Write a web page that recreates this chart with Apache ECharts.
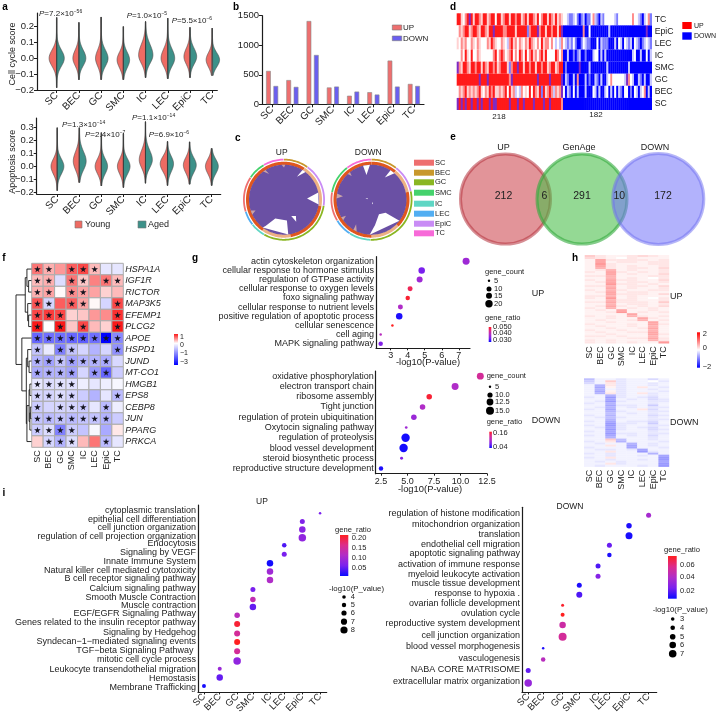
<!DOCTYPE html>
<html><head><meta charset="utf-8"><style>html,body{margin:0;padding:0;background:#fff}#c{width:719px;height:716px}</style>
<script src="https://cdn.jsdelivr.net/npm/echarts@6/dist/echarts.min.js"></script></head><body><div id="c"></div>
<script>
const cellTypes=['SC','BEC','GC','SMC','IC','LEC','EpiC','TC'];
// panel a: violin readings per cell type
const ccMin=[-.186,-.136,-.136,-.136,-.123,-.13,-.123,-.11];
const ccMax=[.257,.226,.26,.2,.232,.253,.195,.19];
const ccPeak=[0,0,0,-.01,.02,0,.01,-.01];
const ccSigLow=[.05,.047,.05,.05,.052,.05,.047,.045];
const ccSigUp=[.052,.052,.052,.048,.066,.058,.052,.045];
const ccYoung=[.33,.26,.24,.27,.30,.29,.26,.26];
const ccAged=[.33,.30,.30,.27,.32,.30,.29,.32];
const apMin=[-.19,-.127,-.153,-.166,-.132,-.15,-.14,-.15];
const apMax=[.30,.30,.262,.256,.347,.194,.19,.14];
const apPeak=[0,.04,0,0,.05,.02,.01,0];
const apSigLow=[.06,.068,.058,.06,.062,.062,.06,.057];
const apSigUp=[.058,.074,.058,.058,.074,.058,.058,.055];
const apYoung=[.27,.26,.27,.26,.27,.32,.27,.27];
const apAged=[.29,.30,.27,.29,.30,.26,.29,.29];
// panel b
const degUp=[565,410,1410,285,145,205,740,345];
const degDown=[310,295,835,300,215,165,300,310];
// panel c
const chordOrder=['BEC','EpiC','GC','IC','LEC','SC','SMC','TC'];
const chordColors={SC:'#ee6f6f',BEC:'#c8982c',GC:'#8ab622',SMC:'#45d26c',IC:'#5fd6c4',LEC:'#52aef2',EpiC:'#c98cf5',TC:'#f76ad8'};
const chordUpSpan=[36,63,111,22,21,51,26,30];
const chordDownSpan=[38,40,104,31,26,42,42,37];
const bandUp=[33,67,70,45,145];
const bandDown=[40,38,57,45,180];
const wedgesUp=[
 [[29.5,.75],[32,1],[38,1]],[[87,.66],[78,1],[98,1]],[[156,.51],[144,.58],[151,.72]],
 [[173,1],[172,.6],[205,.59],[215,.92],[217.5,1]]];
const notchesUp=[[[324,1],[328,1],[330,.85]],[[252,1],[245,1],[249,.87]],[[356,1],[2,1],[0,.92]]];
const wedgesDown=[
 [[183,1],[172,.73],[153,.47],[133,.55],[127,1]],[[346,1],[357.5,1],[348.5,.72]],[[31,.74],[33,1],[41,1]],
 [[285,.18],[276,.1],[291,.13]],[[170,.1],[150,.07],[165,.14]]];
const notchesDown=[[[280,1],[272,1],[277,.82]],[[211,1],[205,1],[212,.83]],[[240,1],[234,1],[238,.86]],[[322,1],[317,1],[320,.88]]];
// panel d: strips per row (R red, r pink, l pale, w white, B blue, b mid, c pale blue, p purple)
const stripRows=['TC','EpiC','LEC','IC','SMC','GC','BEC','SC'];
const stripsLeft=[
'RRlwrRpRlRRrlRRlrRRwRRlrRRlRRrRRlrRlRRrlRwrRRlRrlRlrl',
'wrlrRRlrRRrlRRrlRRpRRRRrrRRRRlRRRRRbrRRRprRRlRRrRRlRp',
'lwrlrwwrlwrlwwwrlRrlwwrlwcrRlrwrlwrlRrlwrwRlrrwrwcwcr',
'wwrwRlwRwwrlwwwwwwrRwrRrwlrRwrwRrwRwrRlrwrRlRwwwwRrwr',
'prlRRrlRRrRRlRrlRRrRlrRRRlbrRRpRRlRRrRRlRRrRRlrRRlrRR',
'RRRRRRRRRRRpRRRpRRRRRRRRRRrpRRRRRRRRRRRRpRRRRRpRRRRRp',
'wrlrRlrlrlrRlwrlRrRllrlrRwRlrcwcrwlwRwRrlRbRlrRrcrlrp',
'pRpRpRRpRRpRpRRRpRppRRRRRRpRRRpRRpRRRRpRRRRpRRpRRRRRr'];
const stripsRight=[
'wwcbbcwbBbcBbbwrcbBcbwwwwwcbwwwwwwwrwwcbBcwrb',
'BBBBBBBBBBrBBwBBBBBBBBBcBBBBBBBBBBBBBBBBBBpBB',
'wcbcbwbBBbwcbbBBBwBcbbbBBBcBwcBwcbcBwcbBbcwcb',
'BBcBBbBbcBBbBBBcwwBcBcBBBBBBBBBBBBBcwBBcBBwBc',
'BbBBBBBBpBBBBcBBBBBBBBcBBBBBBBBBBcBBBBBBBBBBB',
'BcbBBcBrBBBcBbBBcbBcBBcwrwwwwwwcprwcBBcbBcBBc',
'wBcbBwBcBBBcBBBwcBcBBcwBcBwBcbBwwBbBwcBcwrBcB',
'BBBBBBBBBBBBBBBBBBBBBBBBBBBBBBBBBBBBBBBBBBBBB'];
const stripCounts=['218','182'];
// panel e
const vennTitles=['UP','GenAge','DOWN'];
const vennCounts=['212','6','291','10','172'];
// panel f
const genes=['HSPA1A','IGF1R','RICTOR','MAP3K5','EFEMP1','PLCG2','APOE','HSPD1','JUND','MT-CO1','HMGB1','EPS8','CEBP8','JUN','PPARG','PRKCA'];
const geneValues=[
[.6,.35,.45,.7,.8,.3,-.3,-.3],[.3,.35,-.4,.6,.25,.55,.6,.3],[.35,.4,.02,.5,.4,.4,.2,.3],
[.75,-.5,.7,.7,.4,.03,-.5,.8],[.8,.85,.8,.2,.25,.45,.5,.9],[1,0,1,.25,.8,.3,.2,1],
[-1.8,-1.7,-1.7,-1.8,-1.9,-1.7,-3,-1.4],[-.7,-.25,-1.5,-.7,-.5,-.9,-.5,-1.3],
[-.9,-1.1,-.7,-1.1,-.9,-.9,-1,-.45],[-1,-.9,-.9,-1.1,-.5,-1.2,-1.8,-.6],
[-.3,-.4,-.35,-.35,-.2,-.3,-.2,-.1],[-.5,-.5,-.4,-.5,-.6,-.9,-.3,-.8],
[-.6,-.5,-.5,-.5,-.6,-.3,-.8,-.2],[-.7,-.8,-.7,-.8,-.7,-.7,-.9,-.6],
[-.6,-.4,-1.5,-.6,-.7,-.1,-1,.1],[.2,-.5,-.9,-.4,.3,.6,-.8,-.3]];
const geneStars=['11011100','11011011','11011000','11011001','11100001','10101001','11111111','10110001',
'11111110','11110110','11110000','11110001','10111010','11111110','11110000','01110010'];
const geneTree=[1,[.4,[.29,0,[.18,1,2]],[.24,3,[.18,4,5]]],[.62,6,[.33,[.24,7,[.15,8,9]],[.29,[.15,[.1,10,11],[.1,[.07,12,13],14]],15]]]];
// panel g
const gUpTerms=['actin cytoskeleton organization','cellular response to hormone stimulus','regulation of GTPase activity','cellular response to oxygen levels','foxo signaling pathway','cellular response to nutrient levels','positive regulation of apoptotic process','cellular senescence','cell aging','MAPK signaling pathway'];
const gUpP=[7.43,4.82,4.7,4.14,4.0,3.57,3.5,3.1,2.41,2.41];
const gUpCount=[18.5,17,15.5,12.5,11,12.5,17,5,5,11];
const gUpRatio=[.038,.034,.038,.049,.051,.040,.029,.052,.041,.035];
const gDownTerms=['oxidative phosphorylation','electron transport chain','ribosome assembly','Tight junction','regulation of protein ubiquitination','Oxytocin signaling pathway','regulation of proteolysis','blood vessel development','steroid biosynthetic process','reproductive structure development'];
const gDownP=[11.87,9.49,7.05,6.42,5.6,4.88,4.82,4.63,4.44,2.5];
const gDownCount=[12.5,12.5,10,10,10,5,15,15,5.5,8];
const gDownRatio=[.128,.10,.163,.10,.086,.089,.033,.033,.072,.036];
// panel h: one digit per cell, tenths
const hUpRows=['53223432','43213222','28333323','28233233','29322233','28323223','27323324','23723223','32832323','22823224','33722233','22723213','32833224','23823323','22933232','33723324','22823223','32732233','23823322','22833324','33723222','32923213','22733223','33833325','22723323','23832324','32723232','23282232','22392323','22228222','32327323','22322832','23223723','22322282','32223283','23223272','22322382','32232272','23223382','22322283','33232272','22223383','32322273','32323229'];
const hDownRows=['62232242','52p32213','42q32232','27q32232','28032q23','27232232','28032223','27q32q32','22732232','32932342','22823243','23932233','32722232','22833252','23723233','32822q42','22732233','22623232','32722243','23632232','22722233','32823342','22933252','32932233','23832342','22932243','32822232','22933233','32823242','22722232','22p62232','32q72223','23227232','22q28232','32228223','23323822','22q22932','32322272','22322328','32q22229','22322329','23232228','22q32229','23222329'];
// panel i
const iUpTerms=['cytoplasmic translation','epithelial cell differentiation','cell junction organization','regulation of cell projection organization','Endocytosis','Signaling by VEGF','Innate Immune System','Natural killer cell mediated cytotoxicity','B cell receptor signaling pathway','Calcium signaling pathway','Smooth Muscle Contraction','Muscle contraction','EGF/EGFR Signaling Pathway','Genes related to the insulin receptor pathway','Signaling by Hedgehog','Syndecan−1−mediated signaling events','TGF−beta Signaling Pathway ','mitotic cell cycle process','Leukocyte transendothelial migration','Hemostasis','Membrane Trafficking'];
const iUpLabelRow=[-.31,.76,1.64,2.72,3.52,4.51,5.58,6.58,7.57,8.68,9.79,10.67,11.63,12.66,13.77,14.84,15.83,16.98,18.05,19.16,20.15];
const iUpDotRow=[0,.96,1.87,2.83,3.71,4.74,5.77,6.73,7.72,8.83,9.98,10.86,11.8,12.8,13.9,14.9,15.96,17.1,18,19,20];
const iUpCell=[7,6,6,6,5,5,4,4,4,3,3,3,2,2,2,2,2,2,1,1,0];
const iUpRatio=[.06,.066,.074,.08,.04,.06,.014,.094,.11,.06,.13,.05,.12,.2,.15,.21,.15,.08,.09,.05,.016];
const iUpLog=[3,5.5,7,8,5,5.5,7,7,7,5.5,6,7,6,6.5,6.5,6.5,6.5,8,4.5,7,4.5];
const iDownTerms=['regulation of histone modification','mitochondrion organization','translation','endothelial cell migration','apoptotic signaling pathway','activation of immune response','myeloid leukocyte activation','muscle tissue development','response to hypoxia .','ovarian follicle development','ovulation cycle','reproductive system development','cell junction organization','blood vessel morphogenesis','vasculogenesis','NABA CORE MATRISOME','extracellular matrix organization'];
const iDownLabelRow=[-.13,.92,1.8,2.75,3.67,4.72,5.67,6.55,7.47,8.45,9.37,10.32,11.46,12.53,13.64,14.71,15.87];
const iDownDotRow=[0,1.01,1.96,2.85,3.8,4.84,5.82,6.68,7.59,8.58,9.49,10.47,11.58,12.69,13.77,14.8,16];
const iDownCell=[7,6,6,5,5,4,4,3,3,2,2,2,2,1,1,0,0];
const iDownRatio=[.036,.009,.008,.02,.009,.016,.026,.009,.016,.07,.072,.049,.052,.009,.042,.019,.031];
const iDownLog=[4.5,5,6.5,4.5,4,4.5,4.5,4.5,5.5,2.5,3.5,6,7.5,2,4,4.5,7];
const iUpCellPos=[0,.95,2,2.95,3.98,4.84,5.93,7];
const iDownCellPos=[0,.87,2,2.97,4.06,4.72,5.86,7];

const FONT='"Liberation Sans",Arial,sans-serif', INK='#222';
const grid=[],xAxis=[],yAxis=[],series=[],graphic=[],polar=[],angleAxis=[],radiusAxis=[];
const axisLine={show:true,onZero:false,lineStyle:{color:'#1c1c1c',width:1.2}};
const T=(x,y,text,o={})=>graphic.push({type:'text',x,y,rotation:(o.rot||0)*Math.PI/180,silent:true,z:20,style:Object.assign({text,fontSize:o.size||8,fontFamily:FONT,fontWeight:o.bold?'bold':'normal',fontStyle:o.italic?'italic':'normal',fill:o.color||INK,textAlign:o.align||'left',textVerticalAlign:'middle'},o.rich?{rich:o.rich}:{})});
const R=(x,y,w,h,fill,stroke)=>graphic.push({type:'rect',silent:true,z:20,shape:{x,y,width:w,height:h},style:{fill,stroke:stroke||null,lineWidth:stroke?.6:0}});
const C=(cx,cy,r,fill,stroke,lw)=>graphic.push({type:'circle',silent:true,z:10,shape:{cx,cy,r},style:{fill,stroke:stroke||null,lineWidth:lw||0}});
const addGrid=(l,t,w,h)=>{grid.push({left:l,top:t,width:w,height:h,containLabel:false});return grid.length-1};
const hidden=(g,type,min,max,extra)=>Object.assign({gridIndex:g,type,min,max,show:false},extra||{});
const minusFmt=d=>v=>(d==null?String(v):v.toFixed(d)).replace('-','−');
const valY=(g,min,max,ticks,d,size)=>({gridIndex:g,type:'value',min,max,axisLine,splitLine:{show:false},
 axisTick:{show:true,length:3,customValues:ticks,lineStyle:{color:'#1c1c1c'}},
 axisLabel:{customValues:ticks,showMinLabel:true,showMaxLabel:true,fontSize:size||9.5,fontFamily:FONT,color:INK,margin:3,formatter:minusFmt(d)}});
const catX=(g,min,max,pos,labels,o={})=>({gridIndex:g,type:'value',min,max,axisLine:o.noLine?{show:false}:axisLine,splitLine:{show:false},
 axisTick:{show:!o.noTick,length:o.tick||3,customValues:pos,lineStyle:{color:'#1c1c1c'}},
 axisLabel:{customValues:pos,showMinLabel:true,showMaxLabel:true,rotate:o.rotate==null?45:o.rotate,fontSize:o.size||10,fontFamily:FONT,color:INK,margin:o.margin||4,formatter:v=>labels?labels[pos.indexOf(v)]:(o.d!=null?v.toFixed(o.d):String(v))}});
const idx=cellTypes.map((_,i)=>i);

// --- a
function violins(g,mins,maxs,peaks,low,up,wy,wa){
 series.push({type:'custom',xAxisIndex:g,yAxisIndex:g,clip:false,silent:true,data:idx.map(i=>[i,mins[i],maxs[i],peaks[i],low[i],up[i],wy[i],wa[i]]),
  renderItem(p,api){
   const x=api.value(0),mn=api.value(1),mx=api.value(2),pk=api.value(3),sl=api.value(4),su=api.value(5),wY=api.value(6),wA=api.value(7);
   const side=(w,s)=>{const pts=[];const n=60;for(let k=0;k<=n;k++){const y=mn+(mx-mn)*k/n;const u=(y-pk)/(y<pk?sl:su);const edge=Math.min(k,n-k)===0?0:.012;
     pts.push(api.coord([x+s*(w*Math.exp(-u*u/2)+edge),y]));}
     return {type:'polygon',silent:true,shape:{points:pts},style:{fill:s<0?'#ee6b63':'#3d9189',stroke:'#4a4a4a',lineWidth:.6}}};
   const a=api.coord([x,mn]),b=api.coord([x,mx]);
   return {type:'group',children:[side(wY,-1),side(wA,1),{type:'line',silent:true,shape:{x1:a[0],y1:a[1],x2:b[0],y2:b[1]},style:{stroke:'#333',lineWidth:.8}}]};
  }});
}
let g=addGrid(37,13,180.3,77);
xAxis.push(catX(g,-.887,7.23,idx,cellTypes));yAxis.push(valY(g,-.2,.285,[-.2,-.1,0,.1,.2],1));
violins(g,ccMin,ccMax,ccPeak,ccSigLow,ccSigUp,ccYoung,ccAged);
g=addGrid(36.7,118,184,76);
xAxis.push(catX(g,-.93,7.41,idx,cellTypes));yAxis.push(valY(g,-.215,.375,[-.2,-.1,0,.1,.2,.3],1));
violins(g,apMin,apMax,apPeak,apSigLow,apSigUp,apYoung,apAged);
T(12.7,54,'Cell cycle score',{size:9,rot:90,align:'center'});T(12.7,161.7,'Apoptosis score',{size:9,rot:90,align:'center'});
const pRich={p:{fontStyle:'italic',fontSize:8,fontFamily:FONT,fill:INK},s:{fontSize:5,fontFamily:FONT,fill:INK,padding:[0,0,4,0]}};
[[39,14,'7.2×10','−56'],[126.7,15.7,'1.0×10','−5'],[171.7,20.7,'5.5×10','−6'],[62,124.7,'1.3×10','−14'],[85,135,'2.4×10','−7'],[132,117.7,'1.1×10','−14'],[148.7,135,'6.9×10','−6']]
 .forEach(a=>T(a[0],a[1],'{p|P}='+a[2]+'{s|'+a[3]+'}',{size:8,rich:pRich}));
R(75,221,7,7,'#ee6b63','#777');T(85,224.7,'Young',{size:9});R(138,221,8,7,'#3d9189','#777');T(148,224.7,'Aged',{size:9});

// --- b
g=addGrid(262,15.7,162,88.6);
xAxis.push({gridIndex:g,type:'category',data:cellTypes,axisLine,axisTick:{show:true,length:3,alignWithLabel:true,lineStyle:{color:'#1c1c1c'}},axisLabel:{rotate:45,fontSize:10,fontFamily:FONT,color:INK,margin:4,interval:0}});
yAxis.push(valY(g,0,1500,[0,500,1000,1500],null));
[['UP',degUp,'#ee6f6f'],['DOWN',degDown,'#6a5ff0']].forEach(s=>series.push({type:'bar',name:s[0],xAxisIndex:g,yAxisIndex:g,data:s[1],barWidth:4.7,barGap:'57%',silent:true,itemStyle:{color:s[2],borderColor:'#8a8a8a',borderWidth:.6}}));
R(392.3,25,9.4,5,'#ee6f6f','#777');T(403,27.5,'UP',{size:8});R(392.3,36,9.4,4.7,'#6a5ff0','#777');T(403,38.3,'DOWN',{size:8});

// --- c: rings, disc and chord gaps, all in one polar system (radius 1 = disc edge)
function arc(a0,a1,r0,r1){const pts=[];const n=Math.max(2,Math.ceil((a1-a0)/2));
 for(let k=0;k<=n;k++)pts.push([a0+(a1-a0)*k/n,r1]);for(let k=n;k>=0;k--)pts.push([a0+(a1-a0)*k/n,r0]);return pts}
function chord(cx,cy,spans,band,wedges,notches){
 polar.push({center:[cx,cy],radius:42});const pi=polar.length-1;
 angleAxis.push({polarIndex:pi,show:false,min:0,max:360,startAngle:90,clockwise:true});
 radiusAxis.push({polarIndex:pi,show:false,min:0,max:1.2});
 const shapes=[];let a=0;
 spans.forEach((s,i)=>{shapes.push([arc(a,a+s-.6,1.12,1.171),chordColors[chordOrder[i]]]);a+=s});
 a=0;const bc=['#e0571f','#eeb183'];
 band.forEach((s,i)=>{shapes.push([arc(a,a+s,.99,1.086),bc[i%2]]);a+=s});
 shapes.push([arc(0,360,0,1),'#6a50a4']);
 wedges.forEach(w=>shapes.push([w,'#fff']));notches.forEach(w=>shapes.push([w,'#c9a4a8']));
 series.push({type:'custom',coordinateSystem:'polar',polarIndex:pi,silent:true,clip:false,data:shapes.map((_,i)=>[.5,0,i]),
  renderItem(p,api){const s=shapes[api.value(2)];return {type:'polygon',silent:true,shape:{points:s[0].map(q=>api.coord([q[1],q[0]]))},style:{fill:s[1]}}}});
}
chord(284,199.7,chordUpSpan,bandUp,wedgesUp,notchesUp);
chord(371.5,199.7,chordDownSpan,bandDown,wedgesDown,notchesDown);
T(281.7,152.7,'UP',{size:8.5,align:'center'});T(368.3,152.7,'DOWN',{size:8.5,align:'center'});
cellTypes.forEach((n,i)=>{const y=[162.7,172.7,182.3,192.7,203.7,213.7,223.7,233.3][i];R(414,y-3,20,6,chordColors[n]);T(435,y,n,{size:7.5})});

// --- d
const stripColor={R:'#ff1a1a',r:'#ff8c8c',l:'#ffd2d2',w:'#ffffff',B:'#0000ff',b:'#7c7cff',c:'#c8c8ff',p:'#7d2bc4'};
const stripCodes=Object.keys(stripColor);
g=addGrid(456.7,13.3,195,96.7);
xAxis.push(hidden(g,'value',0,400));
yAxis.push({gridIndex:g,type:'category',data:stripRows,inverse:true,position:'right',axisLine:{show:false},axisTick:{show:false},axisLabel:{fontSize:8.7,fontFamily:FONT,color:INK,margin:3,interval:0}});
const stripData=[];
stripRows.forEach((_,r)=>{
 [[stripsLeft[r],0,218],[stripsRight[r],218,400]].forEach(([s,a,b])=>{for(let k=0;k<s.length;k++)stripData.push([a+(b-a)*k/s.length,r,a+(b-a)*(k+1)/s.length,stripCodes.indexOf(s[k])])});
});
series.push({type:'custom',xAxisIndex:g,yAxisIndex:g,silent:true,data:stripData,encode:{x:[0,2],y:1},renderItem(p,api){
 const a=api.coord([api.value(0),api.value(1)]),b=api.coord([api.value(2),api.value(1)]),h=api.size([0,1])[1];
 return {type:'rect',silent:true,shape:{x:a[0],y:a[1]-h/2,width:b[0]-a[0]+.3,height:h},style:{fill:stripColor[stripCodes[api.value(3)]]}}}});
T(499,116.7,stripCounts[0],{size:8,align:'center'});T(596,115,stripCounts[1],{size:8,align:'center'});
R(682.3,22,9.4,7,'#ff0000');T(694,25.7,'UP',{size:7});R(682.3,32.3,9.4,7.4,'#0000ff');T(694,35.7,'DOWN',{size:7});

// --- e
C(505.5,199,45,'rgba(205,70,80,.58)','rgba(180,50,60,.55)',3);
C(582,199,45,'rgba(70,190,70,.58)','rgba(50,170,60,.6)',3);
C(658.3,199,45.5,'rgba(115,115,250,.55)','rgba(110,110,240,.5)',3);
[503.5,579,655].forEach((x,i)=>T(x,147.7,vennTitles[i],{size:9,align:'center'}));
[503.5,544.3,582,619.3,663].forEach((x,i)=>T(x,196,vennCounts[i],{size:10.5,align:'center'}));

// --- f
const mix=(c,t)=>`rgb(${c.map(v=>Math.round(255+(v-255)*t)).join(',')})`;
const fColor=v=>v>=0?mix([250,25,25],Math.min(v,1)):mix([0,0,255],Math.min(-v/3,1));
const geneRows=genes.map((_,i)=>i);
g=addGrid(31.7,263.3,91.6,184);
xAxis.push(catX(g,-.5,7.5,idx,cellTypes,{rotate:90,noLine:true,noTick:true,size:9,margin:3}));
yAxis.push({gridIndex:g,type:'value',inverse:true,min:-.5,max:15.5,position:'right',axisLine:{show:false},axisTick:{show:false},splitLine:{show:false},
 axisLabel:{customValues:geneRows,showMinLabel:true,showMaxLabel:true,fontSize:9,fontStyle:'italic',fontFamily:FONT,color:INK,margin:2,formatter:v=>genes[v]}});
const fData=[];genes.forEach((_,r)=>idx.forEach(c=>fData.push([c,r,geneValues[r][c]])));
series.push({type:'custom',xAxisIndex:g,yAxisIndex:g,silent:true,data:fData,renderItem(p,api){
 const x=api.value(0),y=api.value(1),a=api.coord([x-.5,y-.5]),b=api.coord([x+.5,y+.5]);
 return {type:'rect',silent:true,shape:{x:a[0],y:a[1],width:b[0]-a[0],height:b[1]-a[1]},style:{fill:fColor(api.value(2)),stroke:'#ababab',lineWidth:1}}}});
const starData=[];genes.forEach((_,r)=>idx.forEach(c=>{if(geneStars[r][c]==='1')starData.push([c,r])}));
series.push({type:'scatter',xAxisIndex:g,yAxisIndex:g,silent:true,data:starData,symbol:'path://M50 0L61 35L98 35L68 57L79 91L50 70L21 91L32 57L2 35L39 35Z',symbolSize:6.6,itemStyle:{color:'#15151f',opacity:1},z:5});
g=addGrid(16,263.3,15.4,184);
xAxis.push(hidden(g,'value',0,1,{inverse:true}));yAxis.push(hidden(g,'value',-.5,15.5,{inverse:true}));
const treeSeg=[];
(function walk(n){if(typeof n==='number')return [0,n];const a=walk(n[1]),b=walk(n[2]),h=n[0];
 treeSeg.push([a[0],a[1],h,a[1]],[b[0],b[1],h,b[1]],[h,a[1],h,b[1]]);return [h,(a[1]+b[1])/2]})(geneTree);
series.push({type:'custom',xAxisIndex:g,yAxisIndex:g,silent:true,clip:false,data:treeSeg,encode:{x:[0,2],y:[1,3]},renderItem(p,api){
 const a=api.coord([api.value(0),api.value(1)]),b=api.coord([api.value(2),api.value(3)]);
 return {type:'line',silent:true,shape:{x1:a[0],y1:a[1],x2:b[0],y2:b[1]},style:{stroke:'#161616',lineWidth:.9}}}});
const bar=(x,y,w,h,stops)=>graphic.push({type:'rect',silent:true,z:20,shape:{x,y,width:w,height:h},style:{fill:new echarts.graphic.LinearGradient(0,0,0,1,stops)}});
bar(174,334,4,31,[{offset:0,color:'#fa1919'},{offset:.3,color:'#fff'},{offset:1,color:'#0000ff'}]);
[['1',336.7],['0',345],['−1',353.3],['−3',361.7]].forEach(a=>T(180,a[1],a[0],{size:7}));

// --- g
const ratioStops=['#0a0aff','#7a20ee','#b02dc8','#dc2c8c','#ff2020'];
function ratioColor(v,dom){let t=(v-dom[0])/(dom[1]-dom[0]);t=Math.max(0,Math.min(1,t))*4;const i=Math.min(3,Math.floor(t)),f=t-i;
 const h=s=>[1,3,5].map(k=>parseInt(s.substr(k,2),16));const a=h(ratioStops[i]),b=h(ratioStops[i+1]);return `rgb(${a.map((q,k)=>Math.round(q+(b[k]-q)*f)).join(',')})`}
const ratioGrad=ratioStops.slice().reverse().map((c,i)=>({offset:i/4,color:c}));
function termPanel(l,t,w,h,xMin,xMax,ticks,d,terms,P,size,ratio,dom,szFn){
 const g=addGrid(l,t,w,h);
 xAxis.push(catX(g,xMin,xMax,ticks,null,{rotate:0,size:9,d,margin:3,tick:2}));
 yAxis.push({gridIndex:g,type:'category',data:terms,inverse:true,axisLine,axisTick:{show:false},axisLabel:{fontSize:9,fontFamily:FONT,color:INK,margin:2,interval:0}});
 series.push({type:'scatter',xAxisIndex:g,yAxisIndex:g,silent:true,clip:false,data:terms.map((n,i)=>({value:[P[i],n],symbolSize:szFn(size[i]),itemStyle:{color:ratioColor(ratio[i],dom),opacity:1}}))});
}
termPanel(376,256.7,94,91.6,2.135,7.66,[3,4,5,6,7],null,gUpTerms,gUpP,gUpCount,gUpRatio,[.028,.052],c=>.83+.333*c);
termPanel(375.7,371,111.3,102.7,2,12.5,[2.5,5,7.5,10,12.5],1,gDownTerms,gDownP,gDownCount,gDownRatio,[.03,.17],c=>-.15+.57*c);
T(428,362,'-log10(P-value)',{size:9.4,align:'center'});T(430,489,'-log10(P-value)',{size:9.4,align:'center'});
T(485,271.7,'gene_count',{size:7.5});
[['5',280.7,1.2],['10',289,2.5],['15',295.7,3],['20',303.7,3.7]].forEach(a=>{C(489,a[1],a[2],'#000');T(494,a[1],a[0],{size:7.5})});
T(485,318,'gene_ratio',{size:7.5});bar(488.7,327,2.6,15,ratioGrad);
[['0.050',326.7],['0.040',332.7],['0.030',339.7]].forEach(a=>T(493,a[1],a[0],{size:7.5}));
T(531.7,294,'UP',{size:9});
T(486.7,376,'gene_count',{size:7.5});
[['5',386.7,1.2],['10.0',395,2.6],['12.5',402,3.4],['15.0',410.7,4]].forEach(a=>{C(490,a[1],a[2],'#000');T(495,a[1],a[0],{size:7.5})});
T(486.7,421.7,'gene_ratio',{size:7.5});bar(489.3,431.7,2.6,16.3,ratioGrad);
[['0.16',433.3],['0.04',446.7]].forEach(a=>T(493,a[1],a[0],{size:7.5}));
T(531.7,421,'DOWN',{size:9});

// --- h
function heat(l,t,w,h,rows,dec){
 const g=addGrid(l,t,w,h),n=rows.length;
 xAxis.push(catX(g,-.5,7.5,idx,cellTypes,{rotate:90,noLine:true,noTick:true,size:9,margin:3}));
 yAxis.push(hidden(g,'value',0,n,{inverse:true}));
 const data=[];rows.forEach((s,r)=>idx.forEach(c=>data.push([c,r,dec(s[c])])));
 series.push({type:'custom',xAxisIndex:g,yAxisIndex:g,silent:true,data,renderItem(p,api){
  const x=api.value(0),y=api.value(1),v=api.value(2),a=api.coord([x-.5,y]),b=api.coord([x+.5,y+1]);
  return {type:'rect',silent:true,shape:{x:a[0],y:a[1],width:b[0]-a[0]+.2,height:b[1]-a[1]+.2},style:{fill:v>=0?mix([255,0,0],Math.min(v/2,1)):mix([0,0,255],Math.min(-v/2,1))}}}});
}
heat(584.7,255,84.3,88.3,hUpRows,ch=>(+ch-1)*.1);
heat(584,378.3,85,88.4,hDownRows,ch=>ch==='p'?.4:ch==='q'?.2:-(+ch-1)*.1);
T(670,296.7,'UP',{size:9});T(670,422.7,'DOWN',{size:9});
bar(697,332.3,3,35.4,[{offset:0,color:'#ff0000'},{offset:.5,color:'#fff'},{offset:1,color:'#0000ff'}]);
[['2',334.3],['0',348.3],['−2',366.7]].forEach(a=>T(702.7,a[1],a[0],{size:7.5}));

// --- i
function rowPanel(l,t,w,h,xMin,xMax,yMin,yMax,pos,terms,labelRow,dotRow,cell,ratio,dom,log,szFn){
 const g=addGrid(l,t,w,h);
 xAxis.push(catX(g,xMin,xMax,pos,cellTypes,{size:9.5,tick:2,margin:3}));
 // empty end labels keep the real first and last terms out of the axis overlap check
 const labelAt=[yMin+.01].concat(labelRow,[yMax-.01]);
 yAxis.push({gridIndex:g,type:'value',inverse:true,min:yMin,max:yMax,axisLine,splitLine:{show:false},axisTick:{show:false},
  axisLabel:{customValues:labelAt,showMinLabel:false,showMaxLabel:false,hideOverlap:false,lineHeight:6,fontSize:9,fontFamily:FONT,color:INK,margin:2,formatter:v=>{const k=labelRow.indexOf(v);return k<0?'':terms[k]}}});
 series.push({type:'scatter',xAxisIndex:g,yAxisIndex:g,silent:true,clip:false,data:terms.map((_,i)=>({value:[pos[cell[i]],dotRow[i]],symbolSize:szFn(log[i]),itemStyle:{color:ratioColor(ratio[i],dom),opacity:1}}))});
}
rowPanel(198,505,128.7,189,-.36,7.4,-.956,20.73,iUpCellPos,iUpTerms,iUpLabelRow,iUpDotRow,iUpCell,iUpRatio,[.01,.21],iUpLog,c=>c-.5);
rowPanel(522,507.3,134.7,186,-.36,7.47,-.76,16.9,iDownCellPos,iDownTerms,iDownLabelRow,iDownDotRow,iDownCell,iDownRatio,[.006,.072],iDownLog,c=>c+.5);
T(262,501.7,'UP',{size:8.5,align:'center'});T(570,506.7,'DOWN',{size:8.5,align:'center'});
T(335,530,'gene_ratio',{size:7.6});bar(340,535,8.3,41,ratioGrad);
[['0.20',538],['0.15',547.7],['0.10',557.7],['0.05',567.7]].forEach(a=>T(351.7,a[1],a[0],{size:7.5}));
T(329,588.7,'-log10(P_value)',{size:7.8});
[['4',597,1.8],['5',605,2.2],['6',613,2.6],['7',621.7,3.1],['8',630,3.6]].forEach(a=>{C(344,a[1],a[2],'#000');T(350.7,a[1],a[0],{size:7.5})});
T(664,550,'gene_ratio',{size:7.6});bar(668,556,8.7,42.7,ratioGrad);
[['0.06',564.7],['0.04',577],['0.02',590.7]].forEach(a=>T(680,a[1],a[0],{size:7.5}));
T(652.7,610,'-log10(P_value)',{size:7.8});
[['3',619,1.8],['4',627.7,2.3],['5',636.7,2.8],['6',645,3.3],['7',653.7,3.8]].forEach(a=>{C(672.7,a[1],a[2],'#000');T(680,a[1],a[0],{size:7.5})});

[['a',5,7],['b',236,7],['c',237.7,138],['d',453,7],['e',453,137],['f',4,258],['g',195,258],['h',575,258],['i',4,493]].forEach(a=>T(a[1],a[2],a[0],{size:10,bold:true,align:'center',color:'#000'}));

const chart=echarts.init(document.getElementById('c'),null,{renderer:'canvas'});
chart.setOption({animation:false,backgroundColor:'#fff',tooltip:{show:false},grid,xAxis,yAxis,polar,angleAxis,radiusAxis,series,graphic:{elements:graphic}});
</script></body></html>
